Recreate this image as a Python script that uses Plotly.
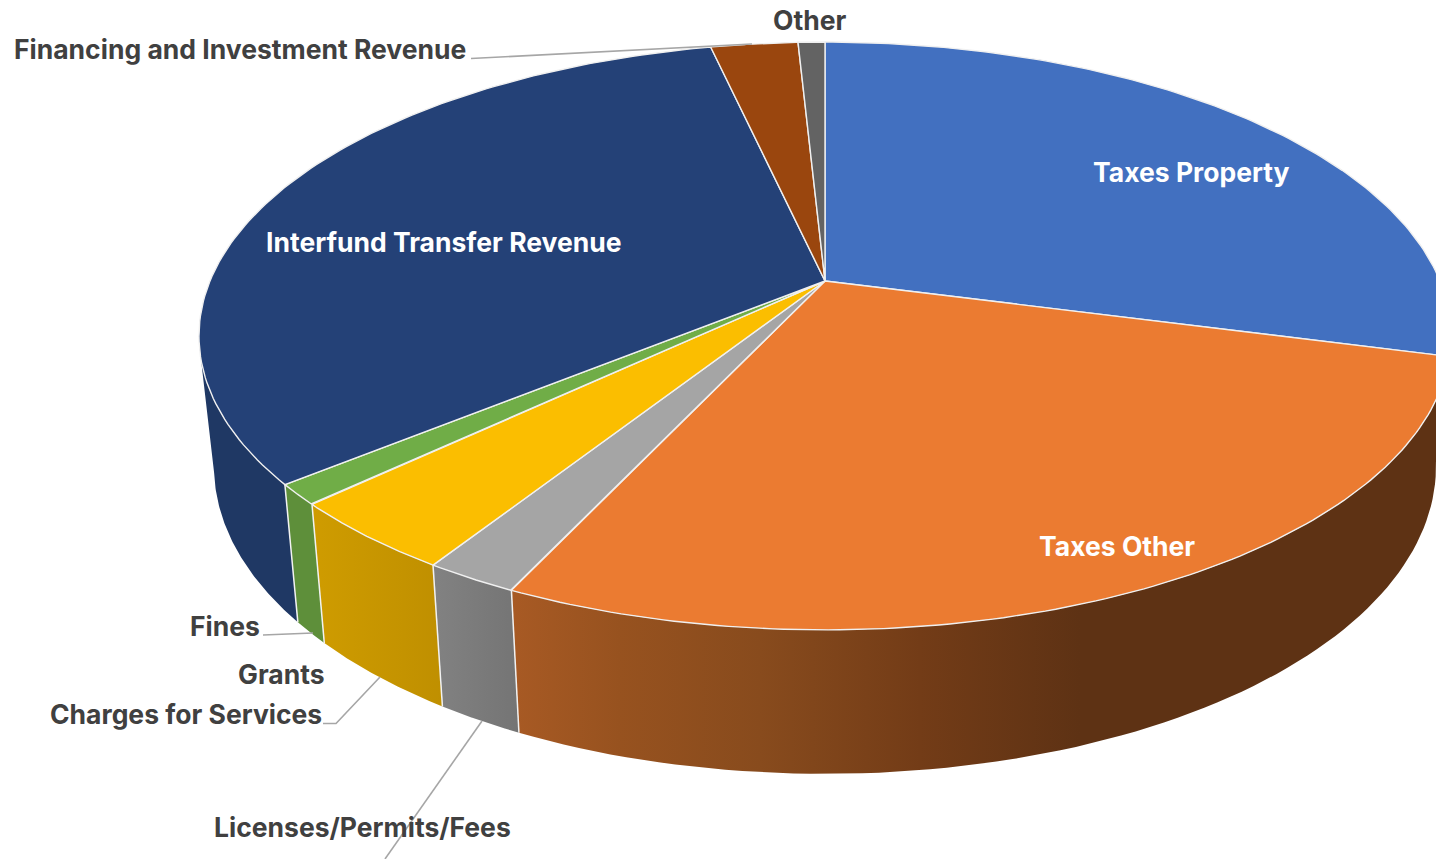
import numpy as np
import plotly.graph_objects as go

# ---- data -------------------------------------------------------------
slices = ["Taxes Property", "Taxes Other", "Licenses/Permits/Fees", "Charges for Services",
          "Grants", "Interfund Transfer Revenue", "Financing and Investment Revenue", "Other"]
values = [29.1, 27.9, 2.06, 3.94, 1.14, 32.4, 2.7, 0.83]
top_colors = ["#4270C0", "#EB7B31", "#A5A5A5", "#FBBE00", "#70AD47", "#244177", "#9A460E", "#636363"]
wall_colors = ["#2F528F", "#5E3214", "#7A7A7A", "#C69500", "#5E8F3A", "#1F3864", "#6E320A", "#454545"]

# ---- projection of the tilted pie (page pixels) ----------------------
CX, CY, A, B, K = 825.0, 281.0, 615.0, 231.1, -0.187
SHRINK = 0.976


def top(phi):
    u, v = np.sin(phi), -np.cos(phi)
    d = 1 + K * v
    return CX + A * u / d, (CY + B * v) / d


def bottom(phi):
    x, y = top(phi)
    v = -np.cos(phi)
    return CX + (x - CX) * SHRINK, y + 127 + 17 * v


total = sum(values)
edges = np.radians(np.concatenate([[0], np.cumsum(values)]) / total * 360)
fig = go.Figure()


def add(x, y, **kw):
    fig.add_trace(go.Scatter(x=x, y=y, mode="lines", hoverinfo="skip", showlegend=False, **kw))


# ---- side walls -------------------------------------------------------
def wall(top0, top1, bot0, bot1, color, gradient=None):
    tx, ty = top(np.linspace(top0, top1, 80))
    bx, by = bottom(np.linspace(bot1, bot0, 80))
    kw = dict(fillcolor=color) if gradient is None else dict(fillgradient=gradient)
    add([*tx, *bx, tx[0]], [*ty, *by, ty[0]], fill="toself", line=dict(width=0, color=color), **kw)


GRAD_START, GRAD_STOP = 511.0, 1451.0


def pos(x):
    return (x - GRAD_START) / (GRAD_STOP - GRAD_START)


orange_grad = dict(type="horizontal", start=GRAD_START, stop=GRAD_STOP,
                   colorscale=[[0, "#A85A24"], [pos(620), "#97521F"], [pos(760), "#884B1D"],
                               [pos(920), "#733C17"], [pos(1080), "#5E3214"], [1, "#5E3214"]])
yellow_grad = dict(type="horizontal", start=311, stop=445,
                   colorscale=[[0, "#CF9C00"], [1, "#BF8F00"]])
gray_grad = dict(type="horizontal", start=432, stop=521,
                 colorscale=[[0, "#828282"], [1, "#747474"]])

SIL_TOP, SIL_BOT, RIGHT_END = np.radians(254.6), np.radians(258), np.radians(100)
wall(edges[5], SIL_TOP, edges[5], SIL_BOT, wall_colors[5])
wall(RIGHT_END, edges[2], RIGHT_END, edges[2], wall_colors[1], orange_grad)
wall(edges[2], edges[3], edges[2], edges[3], wall_colors[2], gray_grad)
wall(edges[3], edges[4], edges[3], edges[4], wall_colors[3], yellow_grad)
wall(edges[4], edges[5], edges[4], edges[5], wall_colors[4])

for e in edges[2:6]:
    tx, ty = top(e)
    bx, by = bottom(e)
    add([tx, bx], [ty, by], line=dict(color="#F2F2F2", width=1.5))

# ---- top faces --------------------------------------------------------
for i, name in enumerate(slices):
    arc = np.linspace(edges[i], edges[i + 1], 120)
    x, y = top(arc)
    add([CX, *x, CX], [CY, *y, CY], fill="toself", fillcolor=top_colors[i],
        line=dict(color="#F0F0F0", width=1.4), name=name)

# ---- leader lines -------------------------------------------------------
leaders = [([471, 752], [58.5, 44]), ([263, 313], [635, 633]),
           ([323, 336, 380], [723.5, 723.5, 677]), ([482, 385], [721, 859])]
for lx, ly in leaders:
    add(lx, ly, line=dict(color="#A6A6A6", width=1.6))

# ---- labels -------------------------------------------------------------
FONT = "Inter"
labels = [("Taxes Property", 1191, 172, "white"), ("Taxes Other", 1117, 546, "white"),
          ("Interfund Transfer Revenue", 444, 242, "white"), ("Other", 809, 20, "#404040"),
          ("Financing and Investment Revenue", 240, 49, "#404040"), ("Fines", 225, 626, "#404040"),
          ("Grants", 281, 674, "#404040"), ("Charges for Services", 186, 714, "#404040"),
          ("Licenses/Permits/Fees", 362, 827, "#404040")]
for text, lx, ly, col in labels:
    fig.add_annotation(x=lx, y=ly, text=text, showarrow=False, xanchor="center", yanchor="middle",
                       font=dict(family=FONT, size=26.5, color=col, weight=700))

fig.update_xaxes(range=[0, 1436], visible=False, fixedrange=True)
fig.update_yaxes(range=[859, 0], visible=False, fixedrange=True)
fig.update_layout(width=1436, height=859, margin=dict(l=0, r=0, t=0, b=0),
                  paper_bgcolor="white", plot_bgcolor="white", showlegend=False)
fig.write_html("out.html", post_script="document.body.style.margin='0';", config=dict(displayModeBar=False))
